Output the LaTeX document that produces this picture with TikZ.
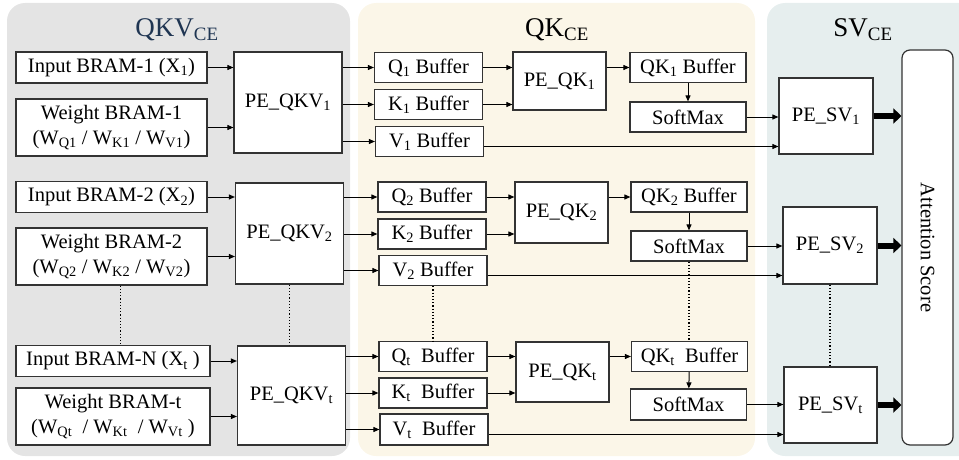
\documentclass[tikz,border=0pt]{standalone}
\usepackage{fontspec}
\setmainfont{Liberation Serif}
\usetikzlibrary{arrows.meta}
\definecolor{qkvback}{HTML}{E4E4E4}
\definecolor{qkback}{HTML}{FBF6E8}
\definecolor{svback}{HTML}{E6EEEE}
\definecolor{titleblue}{HTML}{1F3552}

\begin{document}
\begin{tikzpicture}[x=1pt, y=-1pt,
    blk/.style={draw=black!80, line width=1.2pt, fill=white, inner sep=0pt,
        font=\fontsize{20.5}{25}\selectfont, align=center},
    bram/.style={blk, minimum width=191pt, minimum height=31pt},
    wbram/.style={blk, minimum width=191pt, minimum height=57pt},
    peqkv/.style={blk, minimum width=108pt, minimum height=101pt},
    buf/.style={blk, minimum width=108pt, minimum height=30pt},
    peqk/.style={blk, minimum width=93pt, minimum height=60pt},
    qkbuf/.style={blk, minimum width=116pt, minimum height=30pt},
    pesv/.style={blk, minimum width=94pt, minimum height=76pt},
    arr/.style={-{Triangle[length=6pt,width=5pt]}, line width=1pt},
    fat/.style={-{Triangle[length=8pt,width=15pt]}, line width=6pt},
    dots/.style={dotted, line width=1.2pt},
    ttl/.style={font=\fontsize{27}{30}\selectfont}]
    \useasboundingbox (0,0) rectangle (959,460);

    % Sfondi dei tre blocchi
    \fill[qkvback, rounded corners=18pt] (7,3) rectangle (350,456);
    \fill[qkback, rounded corners=18pt] (358,3) rectangle (755,456);
    \fill[svback, rounded corners=18pt] (767,3) rectangle (990,456);
    \node[ttl, text=titleblue] (tqkv) at (177,30) {QKV\textsubscript{CE}};
    \node[ttl] (tqk) at (557,30) {QK\textsubscript{CE}};
    \node[ttl] (tsv) at (863,30) {SV\textsubscript{CE}};

    % QKV: memorie e PE
    \node[bram] (in1) at (111.5,67.5) {Input BRAM-1 (X\textsubscript{1})};
    \node[wbram] (wt1) at (111.5,127.5) {Weight BRAM-1\\(W\textsubscript{Q1} / W\textsubscript{K1} / W\textsubscript{V1})};
    \node[peqkv] (pqkv1) at (288,102.5) {PE\_QKV\textsubscript{1}};

    \node[bram] (in2) at (111.5,197) {Input BRAM-2 (X\textsubscript{2})};
    \node[wbram] (wt2) at (111.5,256.5) {Weight BRAM-2\\(W\textsubscript{Q2} / W\textsubscript{K2} / W\textsubscript{V2})};
    \node[peqkv] (pqkv2) at (289.5,233.5) {PE\_QKV\textsubscript{2}};

    \node[bram, minimum width=194pt] (inN) at (113,361) {Input BRAM-N (X\textsubscript{t} )};
    \node[wbram, minimum width=194pt] (wtt) at (113,416.5) {Weight BRAM-t\\(W\textsubscript{Qt}\ \ / W\textsubscript{Kt}\ \ / W\textsubscript{Vt} )};
    \node[peqkv, minimum height=99pt] (pqkvt) at (291.5,395.5) {PE\_QKV\textsubscript{t}};

    \draw[arr] (in1) -- (in1 -| pqkv1.west);
    \draw[arr] (wt1) -- (wt1 -| pqkv1.west);
    \draw[arr] (in2) -- (in2 -| pqkv2.west);
    \draw[arr] (wt2) -- (wt2 -| pqkv2.west);
    \draw[arr] (inN) -- (inN -| pqkvt.west);
    \draw[arr] (wtt) -- (wtt -| pqkvt.west);
    \draw[dots] ([xshift=9pt]wt2.south) -- ([xshift=9pt]wt2.south |- inN.north);
    \draw[dots] (pqkv2.south) -- (pqkv2.south |- pqkvt.north);

    % QK: buffer, PE e SoftMax
    \node[buf] (q1) at (428.5,67.5) {Q\textsubscript{1} Buffer};
    \node[buf] (k1) at (428.5,104.5) {K\textsubscript{1} Buffer};
    \node[buf] (v1) at (429.5,141.5) {V\textsubscript{1} Buffer};
    \node[peqk, minimum height=58pt] (pqk1) at (559.5,81) {PE\_QK\textsubscript{1}};
    \node[qkbuf] (qk1) at (688,67.5) {QK\textsubscript{1} Buffer};
    \node[qkbuf] (sm1) at (688,117) {SoftMax};

    \node[buf] (q2) at (432,197) {Q\textsubscript{2} Buffer};
    \node[buf] (k2) at (432,234) {K\textsubscript{2} Buffer};
    \node[buf] (v2) at (433,270.5) {V\textsubscript{2} Buffer};
    \node[peqk, minimum height=61pt] (pqk2) at (561.5,212.5) {PE\_QK\textsubscript{2}};
    \node[qkbuf] (qk2) at (689,197) {QK\textsubscript{2} Buffer};
    \node[qkbuf] (sm2) at (689,246) {SoftMax};

    \node[buf] (qt) at (433,356.5) {Q\textsubscript{t}\ \ Buffer};
    \node[buf] (kt) at (433,393) {K\textsubscript{t}\ \ Buffer};
    \node[buf, minimum height=31pt] (vt) at (434,429.5) {V\textsubscript{t}\ \ Buffer};
    \node[peqk] (pqkt) at (562.5,372) {PE\_QK\textsubscript{t}};
    \node[qkbuf] (qkt) at (689.5,356.5) {QK\textsubscript{t}\ \ Buffer};
    \node[qkbuf, minimum height=31pt] (smt) at (688.5,404.5) {SoftMax};

    \foreach \i in {1,2,t} {
        \draw[arr] (pqkv\i.east |- q\i) -- (q\i);
        \draw[arr] (pqkv\i.east |- k\i) -- (k\i);
        \draw[arr] (pqkv\i.east |- v\i) -- (v\i);
        \draw[arr] (q\i) -- (q\i -| pqk\i.west);
        \draw[arr] (k\i) -- (k\i -| pqk\i.west);
        \draw[arr] (pqk\i.east |- qk\i) -- (qk\i);
        \draw[arr] (qk\i) -- (sm\i);
    }
    \draw[dots] (v2.south) -- (v2.south |- qt.north);
    \draw[dots] (sm2.south) -- (sm2.south |- qkt.north);

    % SV: PE e punteggio di attenzione
    \node[pesv] (psv1) at (826,116) {PE\_SV\textsubscript{1}};
    \node[pesv, minimum height=77pt] (psv2) at (830,245.5) {PE\_SV\textsubscript{2}};
    \node[pesv, minimum width=93pt] (psvt) at (830.5,405) {PE\_SV\textsubscript{t}};
    \node[blk, rounded corners=8pt, rotate=-90, minimum width=395pt,
        minimum height=51pt] (att) at (927.5,247.5) {Attention Score};

    \foreach \i in {1,2,t} {
        \draw[arr] (sm\i) -- (sm\i -| psv\i.west);
        \draw[arr] ([yshift=-5pt]v\i.east) -- ([yshift=-5pt]v\i.east -| psv\i.west);
        \draw[fat] (psv\i) -- (psv\i -| att.south);
    }
    \draw[dots] (psv2.south) -- (psv2.south |- psvt.north);
\end{tikzpicture}
\end{document}
